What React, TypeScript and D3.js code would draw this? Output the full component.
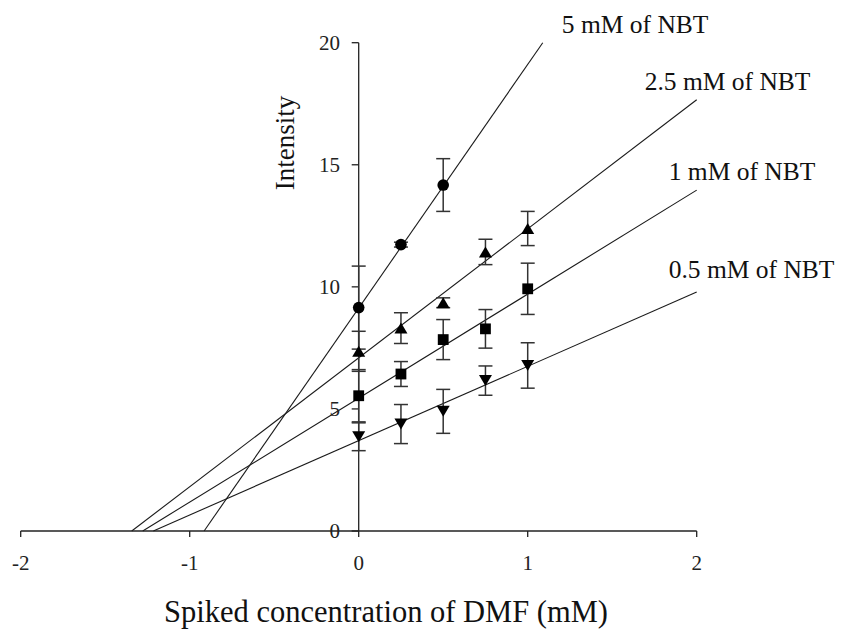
import React from "react";
import * as d3 from "d3";

// ---- data ----
const seriesNames = ["5 mM of NBT", "2.5 mM of NBT", "1 mM of NBT", "0.5 mM of NBT"];
const seriesShapes = ["circle", "triangleUp", "square", "triangleDown"];

const xCircle = [0, 0.25, 0.5];
const yCircle = [9.15, 11.73, 14.17];
const eCircle = [1.7, 0.1, 1.08];

const xTri = [0, 0.25, 0.5, 0.75, 1];
const yTri = [7.36, 8.31, 9.35, 11.43, 12.39];
const eTri = [0.82, 0.63, 0.2, 0.52, 0.7];

const xSq = [0, 0.25, 0.5, 0.75, 1];
const ySq = [5.54, 6.43, 7.84, 8.28, 9.92];
const eSq = [1.07, 0.51, 0.82, 0.79, 1.05];

const xTriDown = [0, 0.25, 0.5, 0.75, 1];
const yTriDown = [3.86, 4.38, 4.9, 6.16, 6.78];
const eTriDown = [0.57, 0.8, 0.9, 0.6, 0.93];

const fitSlopes = [9.98, 5.283, 4.259, 3.045];
const fitIntercepts = [9.13, 7.095, 5.443, 3.7];

const xTicks = [-2, -1, 0, 1, 2];
const yTicks = [0, 5, 10, 15, 20];

const xDomain: [number, number] = [-2, 2];
const yDomain: [number, number] = [0, 20];

const xTitle = "Spiked concentration of DMF (mM)";
const yTitle = "Intensity";

// label offsets (px) relative to line end
const labelOffsets = [
  [19, -10],
  [-52, -10],
  [-28, -10],
  [-28, -14],
];

const W = 841;
const H = 629;
const FONT = '"Liberation Serif", "DejaVu Serif", serif';
const txt = { fontFamily: FONT };

function marker(shape: string, cx: number, cy: number, key: string) {
  if (shape === "circle") return <circle key={key} cx={cx} cy={cy} r={5.8} fill="#000" />;
  if (shape === "square")
    return <rect key={key} x={cx - 5.4} y={cy - 5.4} width={10.8} height={10.8} fill="#000" />;
  const w = 6.5;
  const h = 5.5;
  if (shape === "triangleUp")
    return (
      <path key={key} d={`M${cx},${cy - h}L${cx + w},${cy + h}L${cx - w},${cy + h}Z`} fill="#000" />
    );
  return <path key={key} d={`M${cx},${cy + h}L${cx + w},${cy - h}L${cx - w},${cy - h}Z`} fill="#000" />;
}

export default function App() {
  const x = d3.scaleLinear().domain(xDomain).range([20.7, 696.7]);
  const y = d3.scaleLinear().domain(yDomain).range([531, 42.7]);

  const series = [
    { xs: xCircle, ys: yCircle, es: eCircle },
    { xs: xTri, ys: yTri, es: eTri },
    { xs: xSq, ys: ySq, es: eSq },
    { xs: xTriDown, ys: yTriDown, es: eTriDown },
  ];

  const lineGen = d3
    .line<[number, number]>()
    .x((d) => x(d[0]))
    .y((d) => y(d[1]));

  const x0 = x(0);
  const y0 = y(0);

  return (
    <svg width={W} height={H} style={{ position: "absolute", left: 0, top: 0, background: "#fff" }}>
      <rect width={W} height={H} fill="#fff" />

      {/* fit lines */}
      {fitSlopes.map((m, i) => {
        const b = fitIntercepts[i];
        const xs = -b / m;
        const xe = Math.min(xDomain[1], (yDomain[1] - b) / m);
        const pts: [number, number][] = [
          [xs, 0],
          [xe, m * xe + b],
        ];
        return <path key={"fit" + i} d={lineGen(pts) || ""} stroke="#1a1a1a" strokeWidth={1.1} fill="none" />;
      })}

      {/* axes */}
      <line x1={x(xDomain[0])} x2={x(xDomain[1])} y1={y0} y2={y0} stroke="#222" strokeWidth={1.3} />
      {xTicks.map((t) => (
        <g key={"xt" + t}>
          <line x1={x(t)} x2={x(t)} y1={y0} y2={y0 + 6} stroke="#222" strokeWidth={1.3} />
          <text x={x(t)} y={570} textAnchor="middle" fontSize={21} fill="#222" style={txt}>
            {t}
          </text>
        </g>
      ))}
      <line x1={x0} x2={x0} y1={y(yDomain[0])} y2={y(yDomain[1])} stroke="#222" strokeWidth={1.3} />
      {yTicks.map((t) => (
        <g key={"yt" + t}>
          <line x1={x0 - 7} x2={x0} y1={y(t)} y2={y(t)} stroke="#222" strokeWidth={1.3} />
          <text x={340} y={y(t)} dy="0.35em" textAnchor="end" fontSize={21} fill="#222" style={txt}>
            {t}
          </text>
        </g>
      ))}

      {/* error bars */}
      {series.map((s, si) =>
        s.xs.map((xv, j) => {
          const cx = x(xv);
          const top = y(s.ys[j] + s.es[j]);
          const bot = y(s.ys[j] - s.es[j]);
          return (
            <g key={`e${si}-${j}`} stroke="#333" strokeWidth={1.5}>
              <line x1={cx} x2={cx} y1={top} y2={bot} />
              <line x1={cx - 7} x2={cx + 7} y1={top} y2={top} />
              <line x1={cx - 7} x2={cx + 7} y1={bot} y2={bot} />
            </g>
          );
        })
      )}

      {/* markers */}
      {series.map((s, si) => s.xs.map((xv, j) => marker(seriesShapes[si], x(xv), y(s.ys[j]), `m${si}-${j}`)))}

      {/* line labels */}
      {fitSlopes.map((m, i) => {
        const b = fitIntercepts[i];
        const xe = Math.min(xDomain[1], (yDomain[1] - b) / m);
        return (
          <text
            key={"lbl" + i}
            x={x(xe) + labelOffsets[i][0]}
            y={y(m * xe + b) + labelOffsets[i][1]}
            fontSize={25.5}
            fill="#111"
            style={txt}
          >
            {seriesNames[i]}
          </text>
        );
      })}

      {/* titles */}
      <text x={386} y={622} textAnchor="middle" fontSize={30.5} fill="#111" style={txt}>
        {xTitle}
      </text>
      <text transform={`translate(294,143) rotate(-90)`} textAnchor="middle" fontSize={27} fill="#111" style={txt}>
        {yTitle}
      </text>
    </svg>
  );
}
